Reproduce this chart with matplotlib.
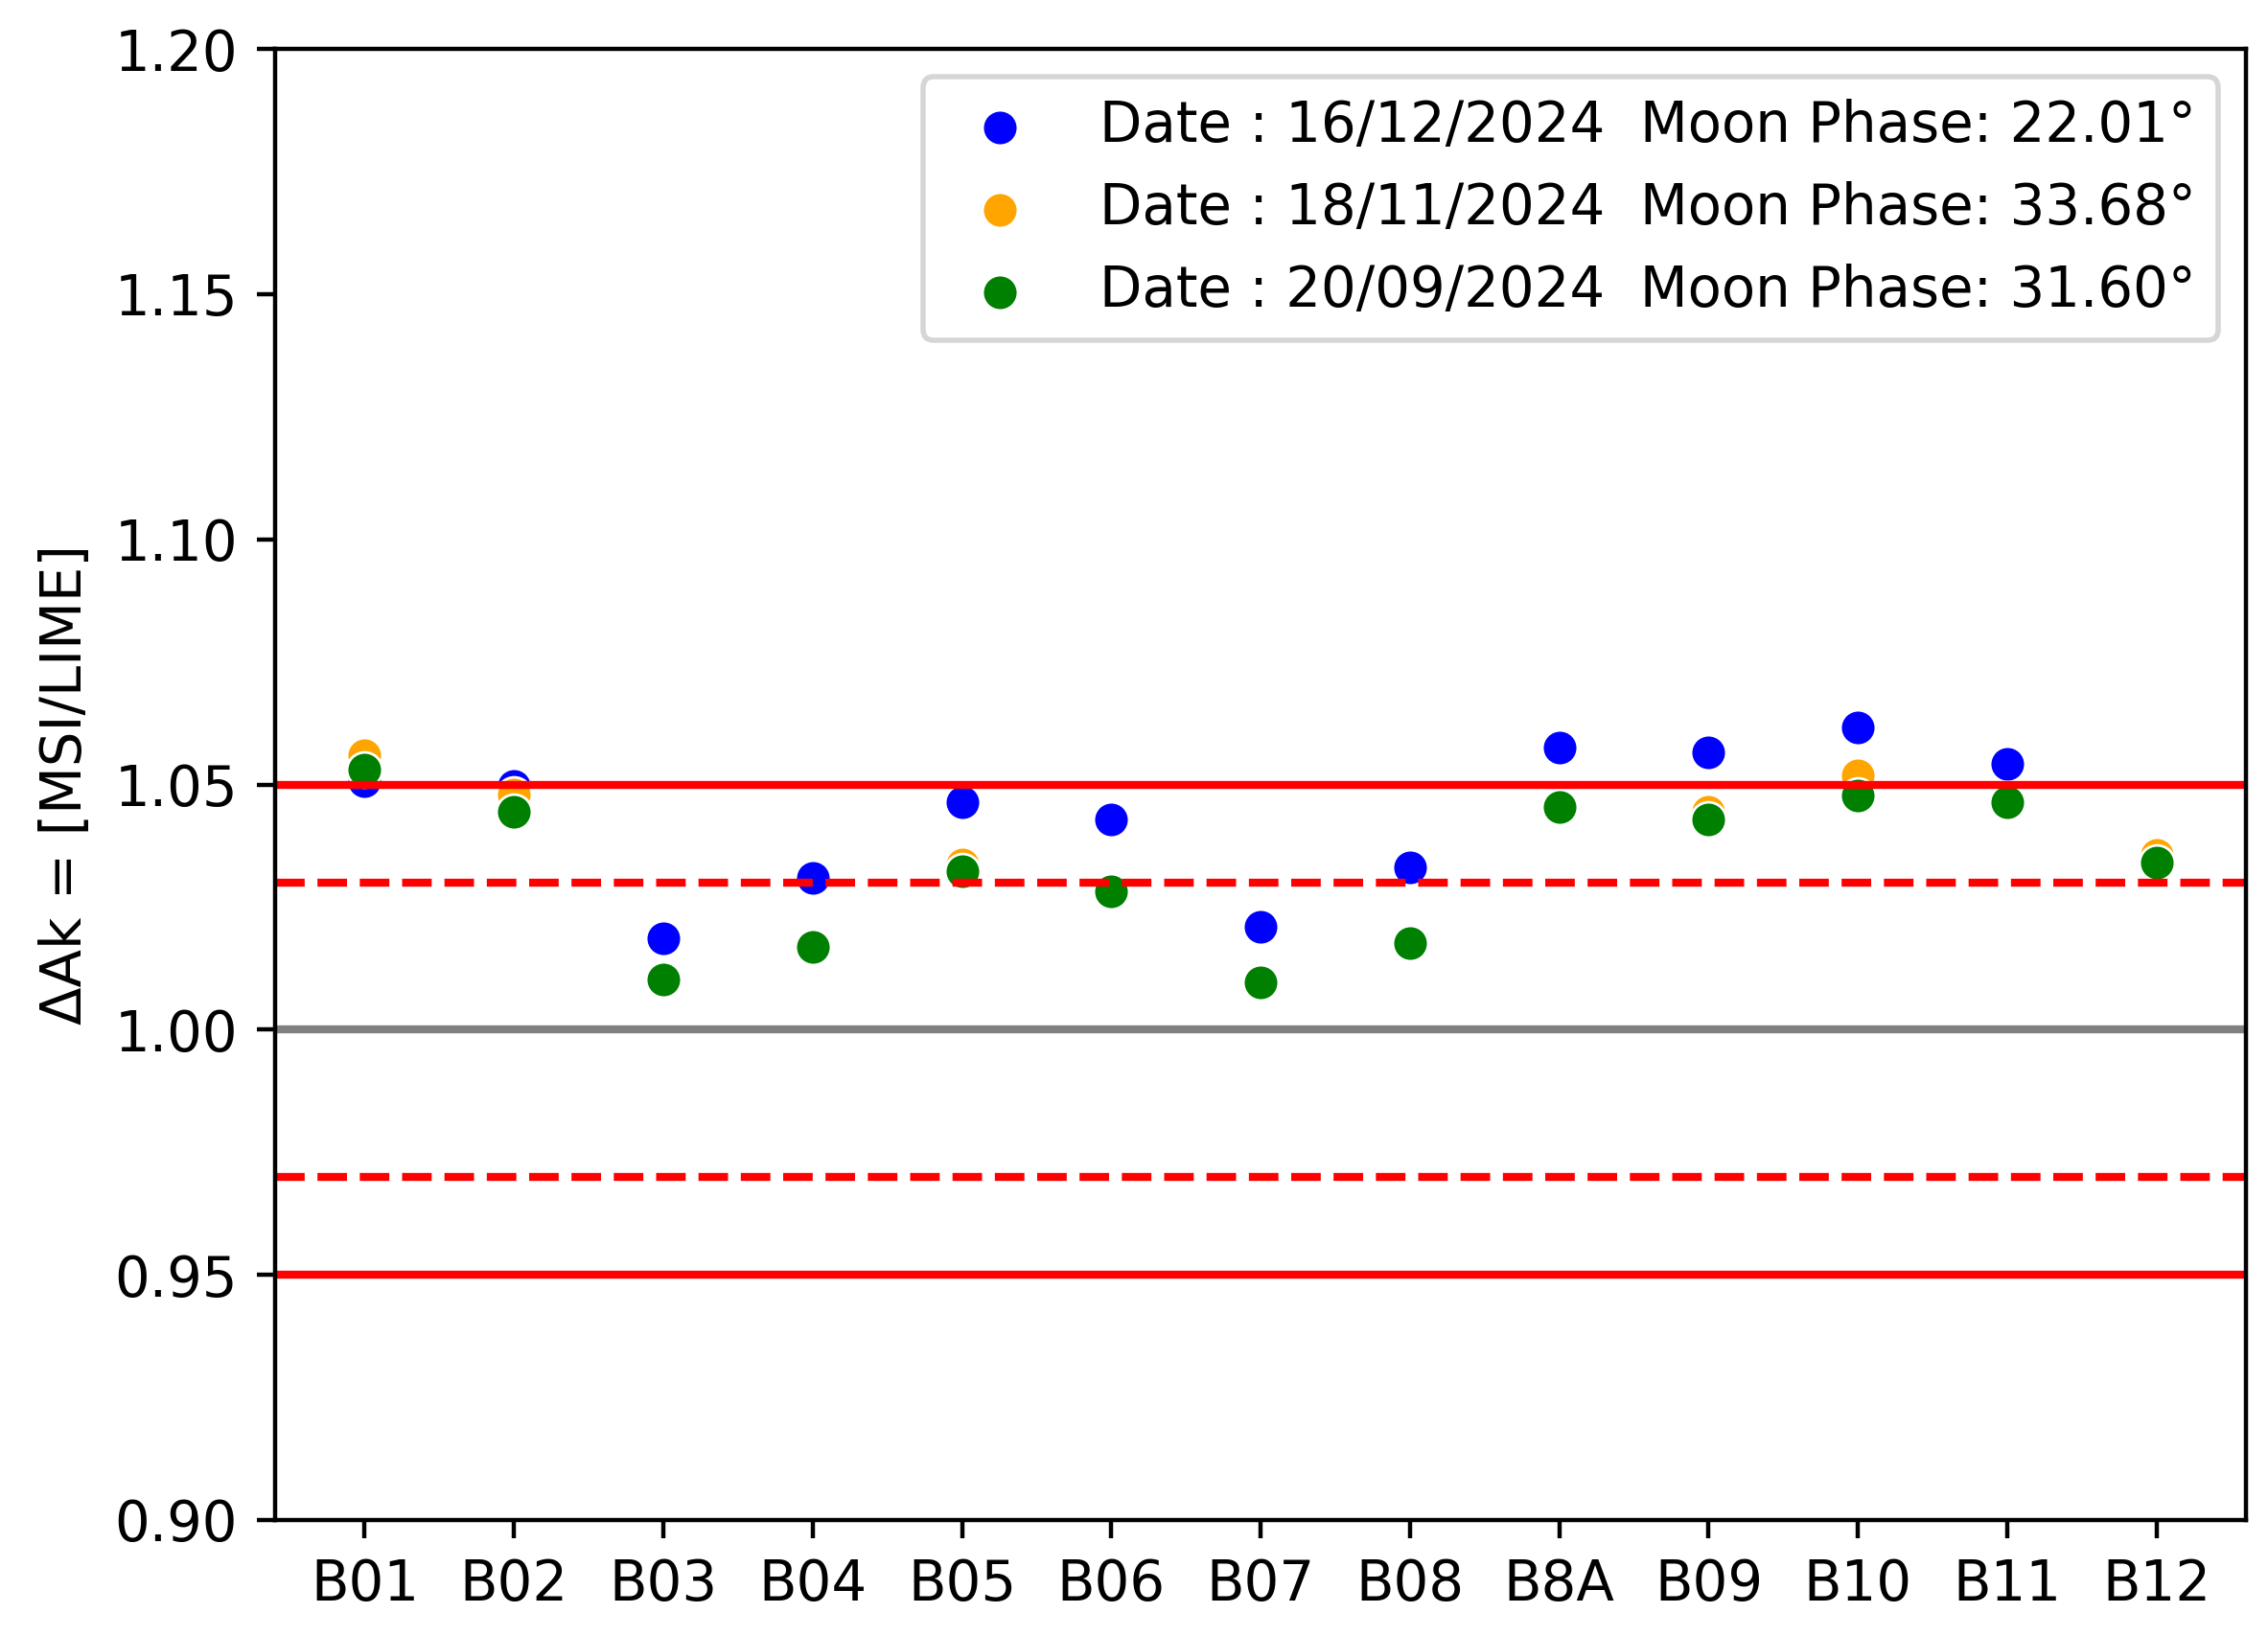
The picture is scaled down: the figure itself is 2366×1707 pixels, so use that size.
import matplotlib
matplotlib.use('Agg')
from matplotlib import pyplot as plt
import numpy as np

bands = ['B01', 'B02', 'B03', 'B04', 'B05', 'B06', 'B07', 'B08', 'B8A', 'B09', 'B10', 'B11', 'B12']

labels = [
    'Date : 16/12/2024  Moon Phase: 22.01°',
    'Date : 18/11/2024  Moon Phase: 33.68°',
    'Date : 20/09/2024  Moon Phase: 31.60°',
]
colors = ['blue', 'orange', 'green']

dak_20241216 = [1.0506, 1.0497, 1.0186, 1.0310, 1.0463, 1.0428, 1.0210, 1.0330, 1.0575, 1.0565, 1.0617, 1.0543, 1.0352]
dak_20241118 = [1.0560, 1.0480, 1.0105, 1.0170, 1.0336, 1.0285, 1.0100, 1.0180, 1.0456, 1.0445, 1.0519, 1.0470, 1.0357]
dak_20240920 = [1.0530, 1.0445, 1.0103, 1.0168, 1.0324, 1.0283, 1.0097, 1.0177, 1.0454, 1.0428, 1.0478, 1.0463, 1.0340]

series = [dak_20241216, dak_20241118, dak_20240920]

plt.rcParams['font.size'] = 10.4
fig = plt.figure(figsize=(5.915, 4.2675), dpi=400)
ax = fig.add_axes([0.1213, 0.071, 0.8691, 0.899])

x = np.arange(len(bands))
for vals, col, lab in zip(series, colors, labels):
    ax.scatter(x, vals, s=44, color=col, edgecolors='white', linewidths=0.5, label=lab)

ax.axhline(1.05, color='red', linestyle='-')
ax.axhline(0.95, color='red', linestyle='-')
ax.axhline(1.03, color='red', linestyle='--')
ax.axhline(0.97, color='red', linestyle='--')
ax.axhline(1.00, color='gray', linestyle='-')

ax.set_xticks(x)
ax.set_xticklabels(bands)
ax.set_ylim(0.90, 1.20)
ax.set_yticks(np.arange(0.90, 1.2001, 0.05))
ax.set_ylabel('ΔAk = [MSI/LIME]')
ax.legend(loc='upper right')

fig.savefig('out.png', dpi=400)
